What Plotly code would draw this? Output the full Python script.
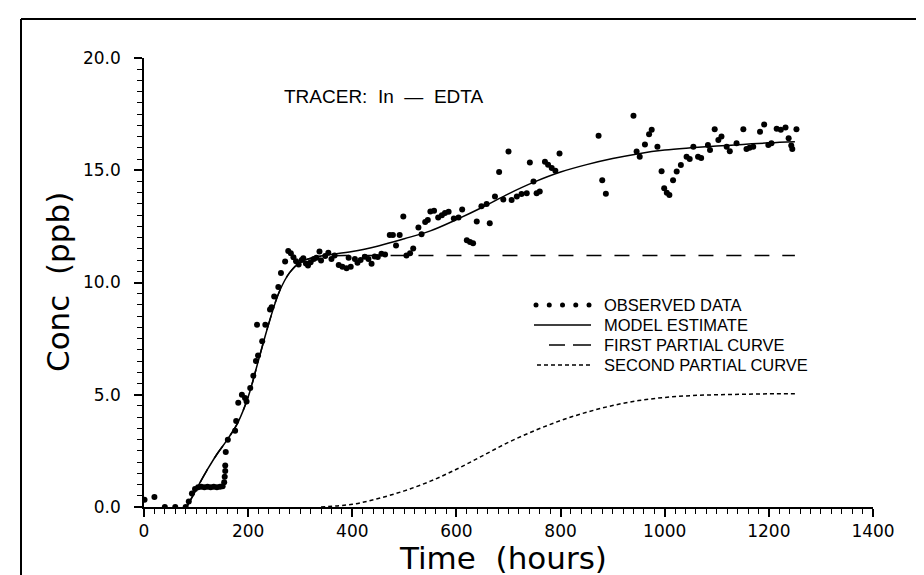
import plotly.graph_objects as go

# ---------------- data ----------------
obs_hours = [1, 20, 40, 60, 80, 86, 92, 98, 104, 110, 116, 122, 128, 134, 140, 146, 151,
             154, 155, 156, 156, 157, 161, 175, 177, 181, 188, 194, 197, 204, 210, 215, 219,
             217, 227, 233, 242, 245, 250, 258, 263, 271, 277, 282, 287, 292, 297, 303, 306,
             311, 315, 320, 326, 331, 337, 340, 348, 354, 360, 366, 374, 381, 389, 393, 397,
             405, 410, 416, 424, 431, 437, 443, 449, 456, 463, 472, 478, 484, 491, 498, 504,
             511, 517, 527, 533, 540, 545, 550, 557, 565, 572, 578, 585, 595, 604, 611, 620,
             626, 632, 639, 648, 658, 664, 674, 682, 690, 700, 706, 716, 725, 735, 741, 748,
             754, 760, 770, 776, 783, 790, 798, 873, 880, 887, 940, 946, 952, 962, 970, 975,
             986, 994, 999, 1004, 1009, 1016, 1023, 1031, 1042, 1048, 1055, 1064, 1070, 1083,
             1087, 1096, 1103, 1109, 1119, 1125, 1138, 1151, 1157, 1163, 1170, 1183, 1191,
             1199, 1205, 1215, 1223, 1232, 1238, 1243, 1245, 1253]
obs_conc = [0.32, 0.45, 0.0, 0.0, 0.0, 0.25, 0.6, 0.8, 0.88, 0.9, 0.88, 0.9, 0.88, 0.9, 0.88, 0.9, 0.92,
            1.1, 1.35, 1.6, 1.85, 2.45, 3.0, 3.4, 3.83, 4.64, 5.0, 4.86, 4.7, 5.3, 5.85, 6.5, 6.75,
            8.12, 7.38, 8.12, 8.8, 8.9, 9.38, 9.8, 10.42, 10.94, 11.4, 11.3, 11.12, 10.95, 10.8, 11.0, 11.08,
            10.85, 10.76, 10.9, 11.05, 11.1, 11.38, 10.98, 11.18, 11.32, 11.05, 11.2, 10.78, 10.7, 10.64, 11.1, 10.7,
            11.05, 10.88, 11.0, 11.15, 11.05, 10.84, 11.16, 11.14, 11.28, 11.25, 12.12, 12.12, 11.65, 12.12, 12.94, 11.2,
            11.3, 11.52, 12.45, 12.15, 12.7, 12.78, 13.16, 13.2, 12.9, 13.0, 13.1, 13.15, 12.85, 12.9, 13.25, 11.88,
            11.8, 11.75, 12.72, 13.4, 13.5, 12.64, 13.83, 14.92, 13.7, 15.83, 13.68, 13.83, 13.94, 13.97, 15.35, 14.5,
            13.97, 14.05, 15.38, 15.25, 15.1, 14.98, 15.75, 16.54, 14.56, 13.95, 17.43, 15.83, 15.6, 16.15, 16.6, 16.8,
            16.05, 14.95, 14.2, 14.0, 13.9, 14.56, 14.94, 15.23, 15.6, 15.5, 16.05, 15.6, 15.55, 16.12,
            15.9, 16.83, 16.35, 16.5, 16.05, 15.85, 16.2, 16.83, 15.95, 16.0, 16.05, 16.72, 17.04,
            16.12, 16.2, 16.85, 16.8, 16.9, 16.42, 16.1, 15.95, 16.83]

model_hours = [82, 90, 100, 110, 120, 140, 160, 180, 200, 220, 240, 260, 280, 300, 325, 350,
               400, 450, 500, 550, 600, 650, 700, 750, 800, 850, 900, 950, 1000, 1050, 1100,
               1150, 1200, 1250]
model_conc = [0.0, 0.35, 0.75, 1.2, 1.6, 2.35, 3.0, 3.75, 4.9, 6.55, 8.2, 9.6, 10.45, 10.9, 11.12, 11.22,
              11.38, 11.63, 11.95, 12.3, 12.8, 13.35, 13.95, 14.48, 14.92, 15.25, 15.52, 15.74, 15.9, 16.0, 16.08,
              16.15, 16.22, 16.27]

first_hours = [82, 100, 120, 140, 160, 180, 200, 220, 240, 260, 280, 300, 325, 350, 400, 500,
               600, 700, 800, 900, 1000, 1100, 1200, 1250]
first_conc = [0.0, 0.75, 1.6, 2.35, 3.0, 3.75, 4.9, 6.55, 8.2, 9.6, 10.45, 10.9, 11.1, 11.18, 11.2, 11.2,
              11.2, 11.2, 11.2, 11.2, 11.2, 11.2, 11.2, 11.2]

second_hours = [340, 400, 450, 500, 550, 600, 650, 700, 750, 800, 850, 900, 950, 1000, 1050,
                1100, 1150, 1200, 1250]
second_conc = [0.0, 0.12, 0.38, 0.72, 1.15, 1.68, 2.28, 2.88, 3.4, 3.85, 4.22, 4.52, 4.74, 4.88, 4.96,
               5.0, 5.02, 5.04, 5.05]

x_ticks = [0, 200, 400, 600, 800, 1000, 1200, 1400]
y_ticks = [0, 5, 10, 15, 20]
y_tick_labels = ["0.0", "5.0", "10.0", "15.0", "20.0"]
legend_labels = ["OBSERVED DATA", "MODEL ESTIMATE", "FIRST PARTIAL CURVE", "SECOND PARTIAL CURVE"]
annotation_text = "TRACER:&nbsp;&nbsp;In&nbsp;&nbsp;—&nbsp;&nbsp;EDTA"
x_title = "Time&nbsp;&nbsp;(hours)"
y_title = "Conc&nbsp;&nbsp;(ppb)"

# ---------------- layout geometry (pixels) ----------------
W, H = 924, 575
L, R, T, B = 136, 865, 50, 499   # plot area edges in px
PW, PH = R - L, B - T


def px(x):
    return (x - L) / PW


def py(y):
    return (B - y) / PH


BLACK = "black"
fig = go.Figure()

fig.add_trace(go.Scatter(x=first_hours, y=first_conc, mode="lines", line_shape="spline",
                         line=dict(color=BLACK, width=1.5, dash="15px,13px"), showlegend=False))
fig.add_trace(go.Scatter(x=second_hours, y=second_conc, mode="lines", line_shape="spline",
                         line=dict(color=BLACK, width=1.5, dash="4px,3px"), showlegend=False))
fig.add_trace(go.Scatter(x=model_hours, y=model_conc, mode="lines", line_shape="spline",
                         line=dict(color=BLACK, width=1.5), showlegend=False))
fig.add_trace(go.Scatter(x=obs_hours, y=obs_conc, mode="markers",
                         marker=dict(color=BLACK, size=6), showlegend=False))

tick_font = dict(family="DejaVu Sans, Liberation Sans, sans-serif", size=17, color=BLACK)

fig.update_xaxes(range=[0, 1400], tickvals=x_ticks, ticktext=[str(v) for v in x_ticks],
                 showline=True, linecolor=BLACK, linewidth=1.5, showgrid=False, zeroline=False,
                 ticks="outside", ticklen=8, tickwidth=1.5, tickcolor=BLACK, tickfont=tick_font,
                 minor=dict(dtick=20, tick0=0, ticks="outside", ticklen=5, tickwidth=1.2,
                            tickcolor=BLACK, showgrid=False))
fig.update_yaxes(range=[0, 20], tickvals=y_ticks, ticktext=y_tick_labels,
                 showline=True, linecolor=BLACK, linewidth=1.5, showgrid=False, zeroline=False,
                 ticks="outside", ticklen=8, tickwidth=1.5, tickcolor=BLACK, tickfont=tick_font,
                 ticklabelstandoff=10,
                 minor=dict(dtick=0.5, tick0=0, ticks="outside", ticklen=5, tickwidth=1.2,
                            tickcolor=BLACK, showgrid=False))

shapes = []
# outer frame
frame_l, frame_t, frame_r, frame_b = 13, 11, 921, 590
for (x0, y0, x1, y1) in [(frame_l, frame_t, frame_r, frame_t), (frame_l, frame_t, frame_l, frame_b),
                         (frame_r, frame_t, frame_r, frame_b)]:
    shapes.append(dict(type="line", xref="paper", yref="paper", x0=px(x0), y0=py(y0),
                       x1=px(x1), y1=py(y1), line=dict(color=BLACK, width=2)))

# legend samples
rows = [297, 317, 337, 357]
s0, s1 = 526, 583
for i in range(5):
    cx = s0 + 2 + i * (s1 - s0 - 4) / 4
    shapes.append(dict(type="circle", xref="paper", yref="paper",
                       x0=px(cx - 2.5), x1=px(cx + 2.5), y0=py(rows[0] - 2.5), y1=py(rows[0] + 2.5),
                       fillcolor=BLACK, line=dict(color=BLACK, width=0)))
shapes.append(dict(type="line", xref="paper", yref="paper", x0=px(s0), x1=px(s1),
                   y0=py(rows[1]), y1=py(rows[1]), line=dict(color=BLACK, width=1.5)))
for (a, b) in [(541, 557), (565, 583)]:
    shapes.append(dict(type="line", xref="paper", yref="paper", x0=px(a), x1=px(b),
                       y0=py(rows[2]), y1=py(rows[2]), line=dict(color=BLACK, width=1.5)))
shapes.append(dict(type="line", xref="paper", yref="paper", x0=px(529), x1=px(s1),
                   y0=py(rows[3]), y1=py(rows[3]), line=dict(color=BLACK, width=1.5, dash="4px,3px")))

annotations = []
legend_font = dict(family="Liberation Sans, Arial, sans-serif", size=16.5, color=BLACK)
for lab, r in zip(legend_labels, rows):
    annotations.append(dict(text=lab, xref="paper", yref="paper", x=px(595), y=py(r),
                            xanchor="left", yanchor="middle", showarrow=False, font=legend_font,
                            borderpad=0))
annotations.append(dict(text=annotation_text, xref="paper", yref="paper", x=px(275), y=py(88),
                        xanchor="left", yanchor="middle", showarrow=False, borderpad=0,
                        font=dict(family="Liberation Sans, Arial, sans-serif", size=19, color=BLACK)))
title_font = dict(family="DejaVu Sans, sans-serif", size=31, color=BLACK)
annotations.append(dict(text=x_title, xref="paper", yref="paper", x=px(495), y=py(550),
                        xanchor="center", yanchor="middle", showarrow=False, font=title_font))
annotations.append(dict(text=y_title, xref="paper", yref="paper", x=px(50), y=py(274),
                        xanchor="center", yanchor="middle", showarrow=False, textangle=-90,
                        font=title_font))

fig.update_layout(width=W, height=H, autosize=False,
                  margin=dict(l=L, r=W - R, t=T, b=H - B),
                  plot_bgcolor="white", paper_bgcolor="white",
                  shapes=shapes, annotations=annotations, showlegend=False)

fig.write_html("out.html")
